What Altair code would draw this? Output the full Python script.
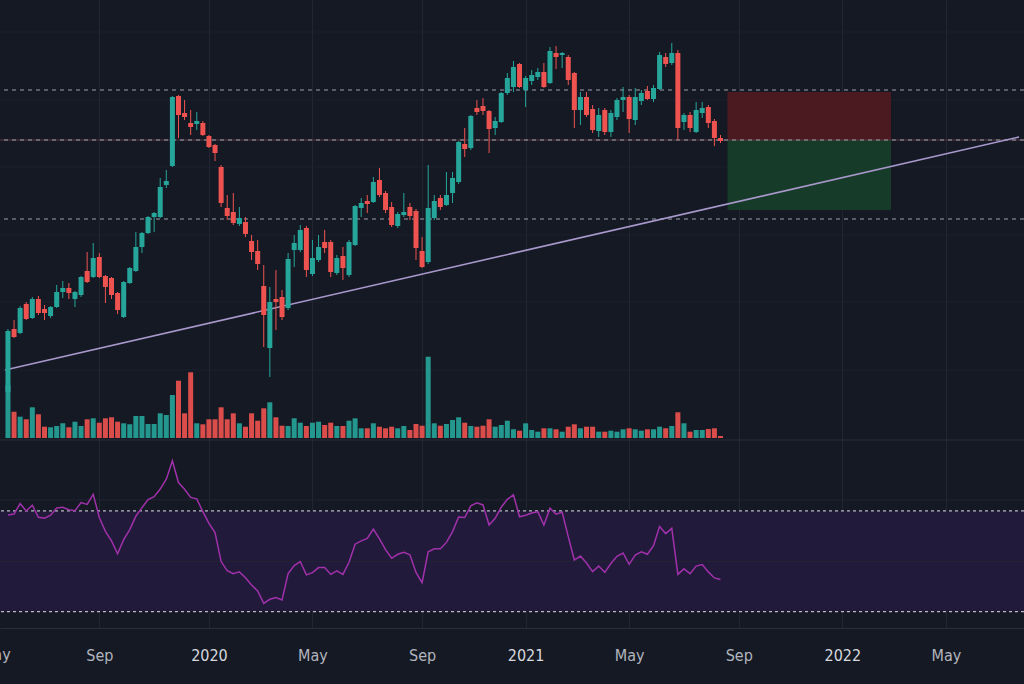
import altair as alt
import pandas as pd

# ---------------- data (weekly bars, week starting Monday) ----------------
first_week = "2019-05-13"
opens = [108,171,167,196,182,201,191,184,193,208,212,201,205,229,223,243,224,222,207,183,
         217,229,253,267,283,283,315,334,404,387,377,376,377,364,355,333,292,288,276,278,
         259,249,214,152,201,203,192,250,250,272,226,240,258,258,227,244,225,255,292,299,
         298,320,307,293,274,285,293,289,249,238,282,302,295,307,318,356,352,392,394,389,
         372,378,407,413,436,410,419,423,428,417,447,445,443,427,390,403,391,369,390,368,
         383,400,403,380,399,409,401,411,443,437,447,378,385,368,387,393,379,362]
highs = [171,180,194,198,203,204,195,194,215,219,217,209,224,248,257,247,225,223,208,219,
         233,268,268,284,288,322,330,404,405,400,390,388,379,365,356,335,305,307,293,283,
         265,260,235,213,230,210,247,265,275,274,260,265,270,260,245,253,260,295,302,305,
         323,332,309,298,288,307,297,291,263,335,305,305,328,328,359,372,385,400,402,390,
         383,408,427,439,437,424,430,432,437,453,454,448,445,428,408,408,395,392,392,390,
         402,413,405,412,410,414,415,448,447,457,450,387,388,398,398,395,381,365]
lows = [100,162,166,180,181,185,180,182,192,202,201,193,203,217,222,222,197,201,186,182,
        216,228,247,266,268,282,312,333,362,380,365,370,364,352,339,293,280,275,274,263,
        240,230,153,123,170,180,190,233,248,223,224,238,247,223,225,220,223,254,283,287,
        297,303,287,273,272,283,280,240,232,236,280,290,294,297,316,343,350,385,385,347,
        365,377,405,408,412,393,415,420,412,416,431,432,415,372,375,383,367,363,365,363,
        380,388,367,375,395,400,398,410,433,435,360,370,368,367,382,372,354,357]
closes = [169,163,192,181,201,187,187,193,208,212,207,208,223,218,242,223,213,205,190,218,
          232,253,267,283,287,313,319,403,385,383,373,379,365,353,347,297,284,277,282,266,
          248,236,185,198,198,183,241,257,270,230,242,253,252,228,242,232,258,294,297,296,
          318,305,290,275,286,288,284,252,233,292,299,293,305,322,358,351,384,388,389,371,
          379,407,422,433,413,422,425,428,413,449,443,447,420,390,403,385,370,385,368,387,
          400,403,381,403,407,401,412,445,436,447,372,385,372,390,392,377,362,359]
volume_m = [5.3,2.63,2.13,1.87,3.07,2.37,1.13,1.07,1.2,1.47,1.07,1.63,1.2,1.87,1.97,1.53,1.97,2.07,1.63,1.47,
            1.37,2.2,2.2,1.4,1.4,2.47,2.3,4.3,5.73,2.47,6.57,1.47,1.37,1.87,1.87,3.07,1.87,2.47,1.47,1.13,
            2.47,1.73,2.97,3.57,2.07,1.23,1.2,1.97,1.53,1.2,1.53,1.63,1.3,1.53,1.2,1.2,1.73,1.97,0.97,0.97,
            1.47,1.13,0.97,1.13,0.97,1.2,0.8,1.4,1.23,8.13,1.47,1.23,1.4,1.8,2.07,1.53,1.2,1.13,1.23,1.87,
            1.13,1.3,1.73,0.87,0.73,1.47,0.8,0.63,0.97,0.97,0.87,0.63,1.13,1.37,0.97,1.13,1.13,0.63,0.63,0.73,
            0.63,0.87,0.97,0.87,0.73,0.87,0.87,1.13,0.97,1.2,2.57,1.47,0.63,0.8,0.8,0.9,0.97,0.2]
rsi = [68.4,68.8,72.9,70.0,72.3,67.5,67.1,68.3,71.2,71.5,70.5,70.1,73.3,72.6,76.6,67.4,61.9,58.1,53.0,58.6,
       62.6,67.9,71.3,74.5,75.7,78.7,82.6,89.9,81.3,78.6,75.4,74.8,69.7,65.1,61.4,49.9,46.3,45.1,45.8,43.5,
       40.6,38.2,33.3,34.9,35.6,34.6,45.1,48.3,49.9,44.6,45.5,47.5,47.5,44.8,46.2,44.8,49.6,56.8,58.1,59.1,
       62.8,58.9,54.6,51.2,52.8,53.6,52.6,45.6,41.5,53.8,55.0,55.0,57.5,61.8,67.6,67.4,72.0,73.2,72.4,64.4,
       67.1,71.5,74.6,76.4,67.7,68.3,69.2,69.7,64.4,71.1,68.7,69.5,59.8,50.5,52.1,49.3,45.9,48.1,45.6,49.1,
       52.0,53.3,48.8,52.5,53.8,52.8,56.2,63.8,61.0,63.1,44.8,47.0,45.1,48.1,48.7,45.8,43.4,42.8]

# drawn levels / tools
level_prices = [410, 360, 281]
entry_price = 360
stop_price = 408
target_price = 290
box_dates = ["2021-08-17", "2022-02-21"]
trend_prices = [130, 363]
rsi_levels = [70, 30]
price_grid = [468, 400, 333, 265, 198, 130]
rsi_grid = [74.4, 50]
tick_dates = ["2019-08-26", "2019-12-30", "2020-04-27", "2020-08-31",
              "2020-12-28", "2021-04-26", "2021-08-30", "2021-12-27", "2022-04-25"]
edge_tick_date = "2019-04-29"   # "May" label, mostly cut off at the left edge
edge_tick_label = "May"

# ---------------- frames ----------------
dates = pd.date_range(first_week, periods=len(opens), freq="7D")
df = pd.DataFrame({
    "date": dates.strftime("%Y-%m-%d"),
    "open": opens, "high": highs, "low": lows, "close": closes,
    "volume": volume_m, "rsi": rsi, "zero": 0.0,
})

t0 = pd.Timestamp(first_week, tz="UTC") - pd.Timedelta(days=3.41)
t1 = pd.Timestamp(first_week, tz="UTC") + pd.Timedelta(days=1162.1)
ms = lambda t: int(t.value // 10**6)
x_domain = [ms(t0), ms(t1)]
tick_ms = [ms(pd.Timestamp(d, tz="UTC")) for d in tick_dates]

trend_df = pd.DataFrame({"t": x_domain, "p": trend_prices})
box_df = pd.DataFrame({
    "x1": [ms(pd.Timestamp(box_dates[0], tz="UTC"))] * 2,
    "x2": [ms(pd.Timestamp(box_dates[1], tz="UTC"))] * 2,
    "top": [stop_price, entry_price],
    "bot": [entry_price, target_price],
    "kind": ["stop", "target"],
})
levels_df = pd.DataFrame({"p": level_prices})
entry_df = pd.DataFrame({"p": [entry_price]})
rsi_lv_df = pd.DataFrame({"r": rsi_levels})
pgrid_df = pd.DataFrame({"p": price_grid})
rgrid_df = pd.DataFrame({"r": rsi_grid})
rsi_band_df = pd.DataFrame({"a": [rsi_levels[0]], "b": [rsi_levels[1]]})
edge_df = pd.DataFrame({"t": [ms(pd.Timestamp(edge_tick_date, tz="UTC"))], "lab": [edge_tick_label]})

# ---------------- style ----------------
BG = "#151924"
UP = "#26a69a"
DOWN = "#ef5350"
FONT = "Liberation Sans Narrow, DejaVu Sans Condensed, Roboto, sans-serif"
LABEL_SIZE = 16
LABEL_PAD = 19

is_year = "utcFormat(time(datum.value) + 518400000, '%m') == '01'"
label_expr = (f"{is_year} ? utcFormat(time(datum.value) + 518400000, '%Y')"
              " : utcFormat(time(datum.value) + 518400000, '%b')")

x_axis = alt.Axis(values=tick_ms, labelExpr=label_expr, title=None, grid=True,
                  gridColor="#222631", gridWidth=1, ticks=False, tickSize=0,
                  domain=True, domainColor="#2a2e39",
                  labelColor={"condition": {"test": is_year, "value": "#d6d8de"}, "value": "#b2b5be"},
                  labelFont=FONT, labelFontSize=LABEL_SIZE, labelPadding=LABEL_PAD,
                  labelFlush=False, labelOverlap=False, labelBound=False)
x_scale = alt.Scale(type="utc", domain=x_domain, nice=False)

def X(field, typ="T"):
    return alt.X(f"{field}:{typ}", scale=x_scale, axis=x_axis)

price_scale = alt.Scale(domain=[-128, 500], nice=False, zero=False)
vol_scale = alt.Scale(domain=[-19, 43.8], nice=False, zero=False)
rsi_scale = alt.Scale(domain=[23.5, 273], nice=False, zero=False)

def PY(field):
    return alt.Y(f"{field}:Q", scale=price_scale, axis=None)

def RY(field):
    return alt.Y(f"{field}:Q", scale=rsi_scale, axis=None)

color_dir = alt.condition("datum.close >= datum.open", alt.value(UP), alt.value(DOWN))

base = alt.Chart(df)

rsi_band = alt.Chart(rsi_band_df).mark_rect(color="#221a3a").encode(y=RY("a"), y2="b:Q")
pgrid = alt.Chart(pgrid_df).mark_rule(color="#1d212c", strokeWidth=1).encode(y=PY("p"))
rgrid = alt.Chart(rgrid_df).mark_rule(color="#252436", strokeWidth=1).encode(y=RY("r"))

boxes = alt.Chart(box_df).mark_rect().encode(
    x=alt.X("x1:T", scale=x_scale, axis=x_axis), x2="x2:T",
    y=PY("top"), y2="bot:Q",
    color=alt.Color("kind:N", scale=alt.Scale(domain=["stop", "target"], range=["#4a1a20", "#163b28"]),
                    legend=None),
)

entry_solid = alt.Chart(entry_df).mark_rule(color="#5a3a42", strokeWidth=1).encode(y=PY("p"))
levels = alt.Chart(levels_df).mark_rule(color="#9fa2ab", strokeWidth=1.2, strokeDash=[4, 4]).encode(y=PY("p"))

trend = alt.Chart(trend_df).mark_line(color="#a898cc", strokeWidth=1.6).encode(
    x=alt.X("t:T", scale=x_scale, axis=x_axis), y=PY("p"))

vol = base.mark_bar(size=5, opacity=0.9).encode(
    x=X("date"), y=alt.Y("volume:Q", scale=vol_scale, axis=None), y2="zero:Q", color=color_dir)

wicks = base.mark_rule(strokeWidth=1).encode(x=X("date"), y=PY("low"), y2="high:Q", color=color_dir)
bodies = base.mark_bar(size=5).encode(x=X("date"), y=PY("open"), y2="close:Q", color=color_dir)

rsi_lv = alt.Chart(rsi_lv_df).mark_rule(color="#b8bac4", strokeWidth=1.3, strokeDash=[3, 3]).encode(y=RY("r"))
rsi_line = base.mark_line(color="#a031ab", strokeWidth=1.5).encode(x=X("date"), y=RY("rsi"))

separator = alt.Chart(entry_df).mark_rule(color="#2a2e39", strokeWidth=1).encode(y=alt.value(440))

edge_label = alt.Chart(edge_df).mark_text(
    font=FONT, fontSize=LABEL_SIZE, color="#b2b5be", align="center", baseline="top"
).encode(x=alt.X("t:T", scale=x_scale, axis=x_axis), y=alt.value(628 + LABEL_PAD), text="lab:N")

chart = alt.layer(
    rsi_band, pgrid, rgrid, boxes, entry_solid, levels, trend, vol, wicks, bodies,
    rsi_lv, rsi_line, separator, edge_label,
).resolve_scale(y="independent", color="independent").properties(
    width=1024, height=628,
    background=BG,
    padding={"left": 0, "top": 0, "right": 0, "bottom": 56},
    autosize=alt.AutoSizeParams(type="none"),
).configure_view(stroke=None, fill=BG)

chart.save("out.html", embed_options={"renderer": "svg", "actions": False})
